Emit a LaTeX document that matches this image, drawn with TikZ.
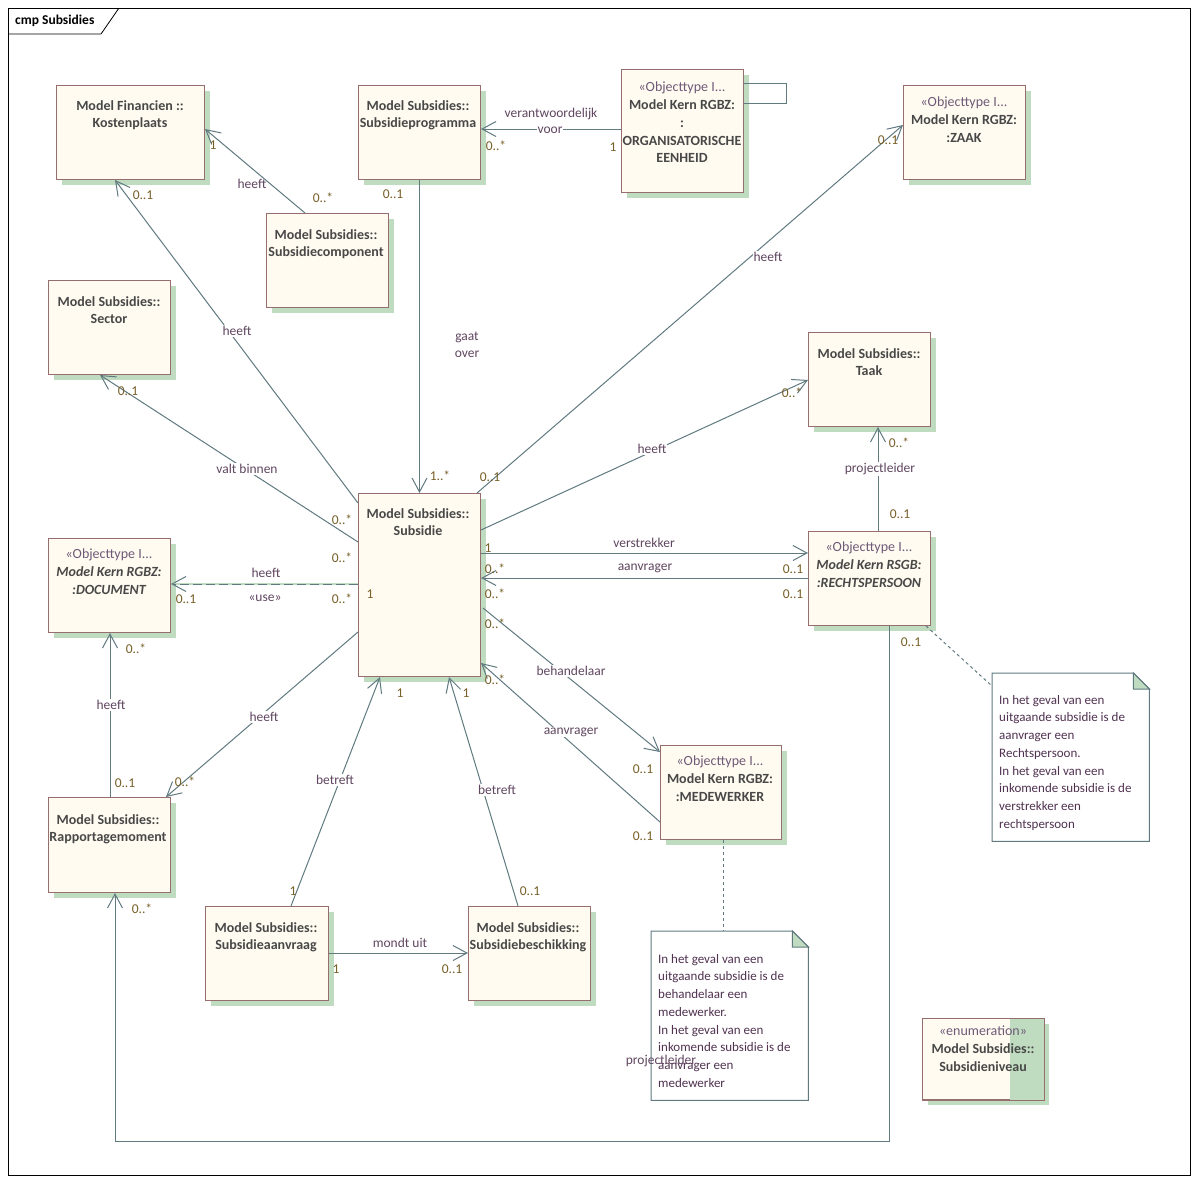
\documentclass[tikz,border=0pt]{standalone}
\usepackage{fontspec}
\setmainfont{Carlito}
\usetikzlibrary{arrows.meta,shadows}
\definecolor{boxf}{RGB}{255,251,240}
\definecolor{boxd}{RGB}{150,110,110}
\definecolor{shad}{RGB}{192,220,192}
\definecolor{linec}{RGB}{96,122,128}
\definecolor{multc}{RGB}{120,96,40}
\definecolor{labc}{RGB}{96,70,96}
\definecolor{titc}{RGB}{72,72,72}
\definecolor{stc}{RGB}{110,90,120}
\definecolor{notet}{RGB}{80,50,80}
\begin{document}
\begin{tikzpicture}[x=1pt,y=-1pt,
  cls/.style 2 args={draw=boxd, fill=boxf, line width=1pt, minimum width=#1pt, minimum height=#2pt, anchor=north west, inner sep=0pt, drop shadow={fill=shad, opacity=1, shadow xshift=5pt, shadow yshift=-5pt}},
  ttl/.style={font=\bfseries\fontsize{14}{17.7}\selectfont, text=titc, align=center, inner sep=0pt, anchor=north},
  mult/.style={font=\fontsize{13.5}{16}\selectfont, text=multc, inner sep=1pt},
  lab/.style={font=\fontsize{13.5}{16}\selectfont, text=labc, inner sep=1pt},
  wlab/.style={lab, fill=white},
  conn/.style={draw=linec, line width=1pt},
  arr/.style={conn, -{Straight Barb[length=14pt,width=15pt]}},
  notebox/.style={anchor=north west, minimum width=#1, inner sep=0pt},
  notetxt/.style={font=\fontsize{13}{17.7}\selectfont, text=notet, align=left, anchor=north west, inner sep=0pt}
]
\fill[white] (0,0) rectangle (1199,1184);
\useasboundingbox (0,0) rectangle (1199,1184);
% frame
\draw[line width=0.8pt] (8,8) rectangle (1190,1175);
\draw[line width=0.8pt] (8,34) -- (101,34) -- (119,8);
\node[font=\bfseries\fontsize{13.5}{16}\selectfont, anchor=west, inner sep=0pt] (frametitle) at (15,21) {cmp Subsidies};

% classes
\node[cls={148}{94}] (kost) at (56,85) {};
\node[ttl] (kost-t) at (130,100) {Model Financien ::\\Kostenplaats};
\node[cls={122}{94}] (prog) at (358,85) {};
\node[ttl] (prog-t) at (418,100) {Model Subsidies::\\Subsidieprogramma};
\node[cls={122}{123}] (org) at (621,69) {};
\node[ttl] (org-t) at (682,82) {{\mdseries\color{stc}«Objecttype I...}\\Model Kern RGBZ:\\:\\ORGANISATORISCHE\\EENHEID};
\node[cls={122}{94}] (zaak) at (903,85) {};
\node[ttl] (zaak-t) at (964,97) {{\mdseries\color{stc}«Objecttype I...}\\Model Kern RGBZ:\\:ZAAK};
\node[cls={122}{94}] (comp) at (266,213) {};
\node[ttl] (comp-t) at (326,229) {Model Subsidies::\\Subsidiecomponent};
\node[cls={122}{94}] (sector) at (48,280) {};
\node[ttl] (sector-t) at (109,296) {Model Subsidies::\\Sector};
\node[cls={122}{94}] (taak) at (808,332) {};
\node[ttl] (taak-t) at (869,348) {Model Subsidies::\\Taak};
\node[cls={122}{183}] (subs) at (358,493) {};
\node[ttl] (subs-t) at (418,508) {Model Subsidies::\\Subsidie};
\node[cls={122}{94}] (doc) at (48,538) {};
\node[ttl] (doc-t) at (109,549) {{\mdseries\color{stc}«Objecttype I...}\\\itshape Model Kern RGBZ:\\\itshape :DOCUMENT};
\node[cls={122}{94}] (rechts) at (808,531) {};
\node[ttl] (rechts-t) at (869,542) {{\mdseries\color{stc}«Objecttype I...}\\\itshape Model Kern RSGB:\\\itshape :RECHTSPERSOON};
\node[cls={121}{94}] (mede) at (660,745) {};
\node[ttl] (mede-t) at (720,756) {{\mdseries\color{stc}«Objecttype I...}\\Model Kern RGBZ:\\:MEDEWERKER};
\node[cls={122}{95}] (rapp) at (48,797) {};
\node[ttl] (rapp-t) at (108,814) {Model Subsidies::\\Rapportagemoment};
\node[cls={123}{94}] (aanvr) at (205,906) {};
\node[ttl] (aanvr-t) at (266,922) {Model Subsidies::\\Subsidieaanvraag};
\node[cls={122}{94}] (besch) at (468,906) {};
\node[ttl] (besch-t) at (528,922) {Model Subsidies::\\Subsidiebeschikking};
% enumeration
\node[cls={121}{81}] (enum) at (922,1018) {};
\fill[shad] ([xshift=-34pt]enum.north east) rectangle (enum.south east);
\draw[boxd, line width=1pt] (enum.north west) rectangle (enum.south east);
\node[ttl] (enum-t) at (983,1026) {{\mdseries\color{stc}«enumeration»}\\Model Subsidies::\\Subsidieniveau};

% notes
\node[notebox=157pt, minimum height=168pt] (note1) at (992,673) {};
\draw[conn, fill=white] (note1.north west) -- ([xshift=-16pt]note1.north east) -- ([yshift=-16pt]note1.north east) -- (note1.south east) -- (note1.south west) -- cycle;
\draw[conn, fill=shad] ([xshift=-16pt]note1.north east) -- ([yshift=-16pt]note1.north east) -- ([shift={(-16,16)}]note1.north east) -- cycle;
\node[notetxt] (note1-t) at (999,695) {In het geval van een\\uitgaande subsidie is de\\aanvrager een\\Rechtspersoon.\\In het geval van een\\inkomende subsidie is de\\verstrekker een\\rechtspersoon};
\node[notebox=157pt, minimum height=169pt] (note2) at (651,931) {};
\draw[conn, fill=white] (note2.north west) -- ([xshift=-16pt]note2.north east) -- ([yshift=-16pt]note2.north east) -- (note2.south east) -- (note2.south west) -- cycle;
\draw[conn, fill=shad] ([xshift=-16pt]note2.north east) -- ([yshift=-16pt]note2.north east) -- ([shift={(-16,16)}]note2.north east) -- cycle;
\node[notetxt] (note2-t) at (658,954) {In het geval van een\\uitgaande subsidie is de\\behandelaar een\\medewerker.\\In het geval van een\\inkomende subsidie is de\\aanvrager een\\medewerker};

% connectors
\draw[arr] ([shift={(39,0)}]comp.north west) -- ([shift={(0,44)}]kost.north east);
\draw[arr] ([shift={(0,10)}]subs.north west) -- ([shift={(59,0)}]kost.south west);
\draw[arr] ([shift={(0,49)}]subs.north west) -- ([shift={(52,0)}]sector.south west);
\draw[draw=shad, line width=1.5pt] ([shift={(0,91)}]subs.north west) -- ([shift={(0,46)}]doc.north east);
\draw[arr, dash pattern=on 9pt off 4pt] ([shift={(0,91)}]subs.north west) -- ([shift={(0,46)}]doc.north east);
\draw[arr] ([shift={(0,139)}]subs.north west) -- ([shift={(-5,0)}]rapp.north east);
\draw[arr] ([shift={(62,0)}]rapp.north west) -- ([shift={(62,0)}]doc.south west);
\draw[arr] (prog.south) -- (subs.north);
\draw[arr] ([shift={(-4,0)}]subs.north east) -- ([shift={(0,40)}]zaak.north west);
\draw[arr] ([shift={(0,37)}]subs.north east) -- ([shift={(0,48)}]taak.north west);
\draw[arr] ([shift={(0,60)}]subs.north east) -- ([shift={(0,22)}]rechts.north west);
\draw[arr] ([shift={(0,47)}]rechts.north west) -- ([shift={(0,85)}]subs.north east);
\draw[arr] ([shift={(70,0)}]rechts.north west) -- ([shift={(70,0)}]taak.south west);
\coordinate (e1) at (889,1141);
\coordinate (e2) at (115,1141);
\draw[arr] ([shift={(81,0)}]rechts.south west) -- (e1) -- (e2) -- ([shift={(67,0)}]rapp.south west);
\draw[arr] ([shift={(2,115)}]subs.north east) -- ([shift={(0,7)}]mede.north west);
\draw[arr] ([shift={(0,77)}]mede.north west) -- ([shift={(0,170)}]subs.north east);
\draw[arr] ([shift={(86,0)}]aanvr.north west) -- ([shift={(22,0)}]subs.south west);
\draw[arr] ([shift={(50,0)}]besch.north west) -- ([shift={(91,0)}]subs.south west);
\draw[arr] ([shift={(0,47)}]aanvr.north east) -- ([shift={(0,47)}]besch.north west);
\draw[arr] ([shift={(0,60)}]org.north west) -- ([shift={(0,44)}]prog.north east);
\draw[conn] ([shift={(0,14)}]org.north east) -- ++(42,0) -- ++(0,20) -- ([shift={(0,34)}]org.north east);
\draw[conn, dashed] ([shift={(-5,0)}]rechts.south east) -- ([shift={(0,13)}]note1.north west);
\draw[conn, dashed] ([shift={(63,0)}]mede.south west) -- ([shift={(72,0)}]note2.north west);

% labels
\node[mult] (m1) at (213,145) {1};
\node[lab] (l1) at (252,184) {heeft};
\node[mult] (m2) at (323,198) {0..*};
\node[mult] (m3) at (143,195) {0..1};
\node[wlab] (l2) at (237,331) {heeft};
\node[mult] (m4) at (128,391) {0..1};
\node[wlab] (l3) at (247,469) {valt binnen};
\node[mult] (m5) at (342,520) {0..*};
\node[mult] (m6) at (342,558) {0..*};
\node[lab] (l4) at (266,573) {heeft};
\node[lab] (l5) at (265,598) {«use»};
\node[mult] (m7) at (186,599) {0..1};
\node[mult] (m8) at (342,599) {0..*};
\node[mult] (m9) at (370,594) {1};
\node[wlab] (l6) at (264,717) {heeft};
\node[mult] (m10) at (185,782) {0..*};
\node[mult] (m11) at (136,649) {0..*};
\node[wlab] (l7) at (111,705) {heeft};
\node[mult] (m12) at (125,783) {0..1};
\node[mult] (m13) at (393,194) {0..1};
\node[lab, align=center, font=\fontsize{13.5}{17.5}\selectfont] (l8) at (467,345) {gaat\\over};
\node[mult] (m14) at (440,476) {1..*};
\node[mult] (m15) at (490,477) {0..1};
\node[wlab] (l9) at (768,257) {heeft};
\node[mult] (m16) at (888,140) {0..1};
\node[wlab] (l10) at (652,449) {heeft};
\node[mult] (m17) at (792,393) {0..*};
\node[mult] (m18) at (488,548) {1};
\node[lab] (l11) at (644,543) {verstrekker};
\node[mult] (m19) at (793,569) {0..1};
\node[mult] (m20) at (495,569) {0..*};
\node[lab] (l12) at (645,568) {aanvrager};
\node[mult] (m21) at (495,594) {0..*};
\node[mult] (m22) at (793,594) {0..1};
\node[mult] (m23) at (899,443) {0..*};
\node[wlab] (l13) at (880,469) {projectleider};
\node[mult] (m24) at (900,514) {0..1};
\node[mult] (m25) at (911,642) {0..1};
\node[mult] (m26) at (142,909) {0..*};
\node[lab] (l14) at (661,1061) {projectleider};
\node[mult] (m27) at (495,624) {0..*};
\node[wlab] (l15) at (571,671) {behandelaar};
\node[mult] (m28) at (643,769) {0..1};
\node[mult] (m29) at (495,680) {0..*};
\node[wlab] (l16) at (571,732) {aanvrager};
\node[mult] (m30) at (643,836) {0..1};
\node[mult] (m31) at (400,693) {1};
\node[wlab] (l17) at (335,780) {betreft};
\node[mult] (m32) at (293,891) {1};
\node[mult] (m33) at (466,693) {1};
\node[wlab] (l18) at (497,790) {betreft};
\node[mult] (m34) at (530,891) {0..1};
\node[mult] (m35) at (336,969) {1};
\node[lab] (l19) at (400,943) {mondt uit};
\node[mult] (m36) at (452,969) {0..1};
\node[lab] (l20) at (551,114) {verantwoordelijk};
\node[wlab] (l21) at (550,130) {voor};
\node[mult] (m37) at (496,146) {0..*};
\node[mult] (m38) at (613,147) {1};
\end{tikzpicture}
\end{document}
